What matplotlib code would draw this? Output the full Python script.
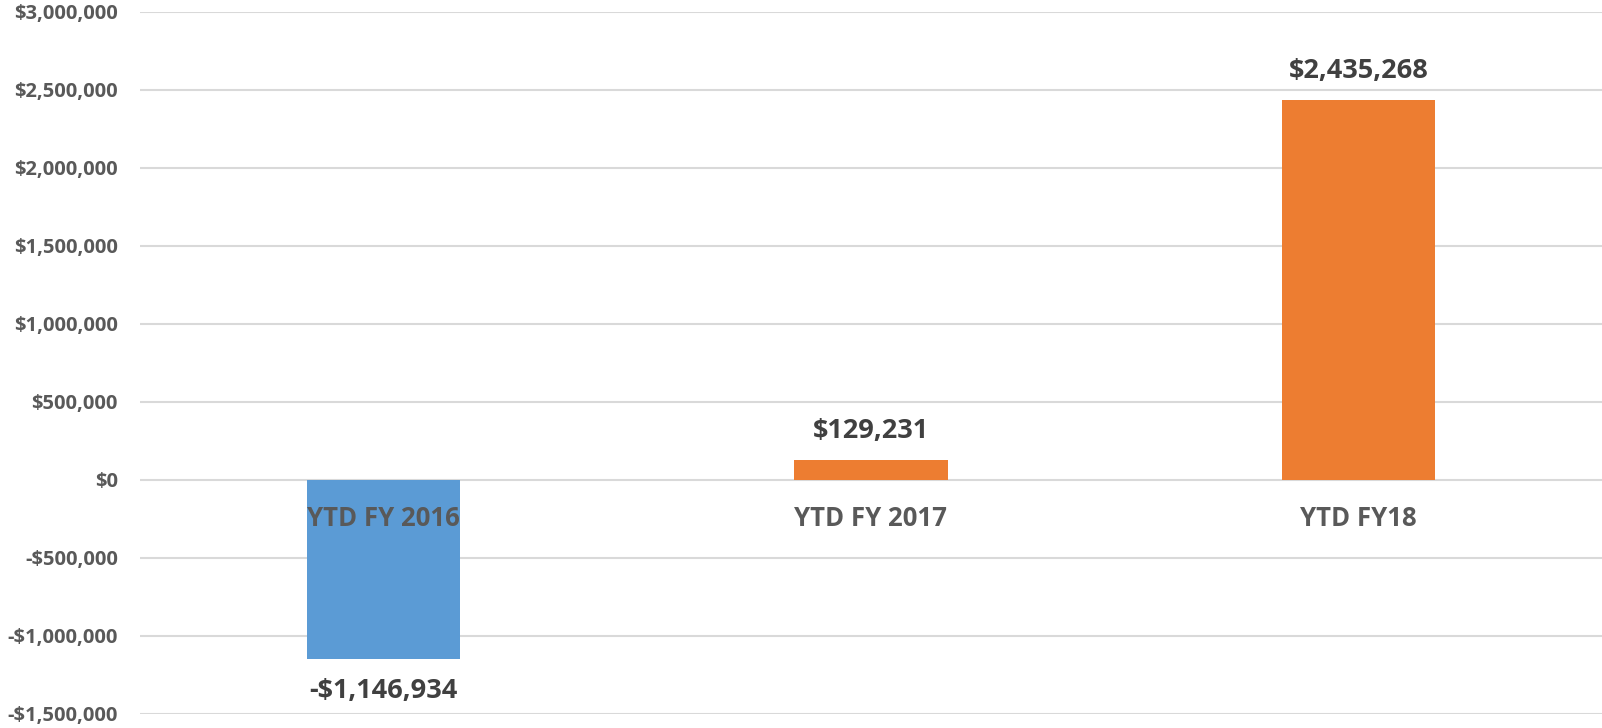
import matplotlib
matplotlib.use("Agg")
import matplotlib.pyplot as plt
from matplotlib.ticker import FuncFormatter, MultipleLocator

# Data
categories = ["YTD FY 2016", "YTD FY 2017", "YTD FY18"]
values     = [-1146934, 129231, 2435268]

BLUE   = "#5B9BD5"
ORANGE = "#ED7D31"
TEXT   = "#595959"
GRID   = "#D9D9D9"

plt.rcParams["font.family"] = ["Open Sans", "DejaVu Sans"]


def money(v, _pos=None):
    v = int(round(v))
    return f"-${abs(v):,}" if v < 0 else f"${v:,}"


fig = plt.figure(figsize=(16.02, 7.28), dpi=100)
ax = fig.add_axes([140 / 1602, 14 / 728, 1462 / 1602, 702 / 728])

colors = [BLUE if v < 0 else ORANGE for v in values]
x = range(len(categories))
ax.bar(x, values, width=0.314, color=colors, zorder=2)

ax.set_xlim(-0.5, 2.5)
ax.set_ylim(-1500000, 3000000)
ax.yaxis.set_major_locator(MultipleLocator(500000))
ax.yaxis.set_major_formatter(FuncFormatter(money))
ax.grid(True, axis="y", color=GRID, linewidth=1.5, zorder=0)
ax.set_xticks([])
for s in ax.spines.values():
    s.set_visible(False)
ax.tick_params(axis="y", length=0, pad=16, labelsize=14.5, labelcolor=TEXT)
for lbl in ax.get_yticklabels():
    lbl.set_fontweight("bold")

# data labels
for i, v in enumerate(values):
    off = 21 if v >= 0 else -23
    ax.annotate(money(v), xy=(i, v), xytext=(0, off), textcoords="offset points",
                ha="center", va="center", fontsize=19.5, fontweight="bold",
                color="#404040", zorder=4)

# category labels along the zero line
for i, c in enumerate(categories):
    ax.annotate(c, xy=(i, 0), xytext=(0, -27.5), textcoords="offset points",
                ha="center", va="center", fontsize=18.5, fontweight="bold",
                color=TEXT, zorder=4)

fig.savefig("out.png", dpi=100)
